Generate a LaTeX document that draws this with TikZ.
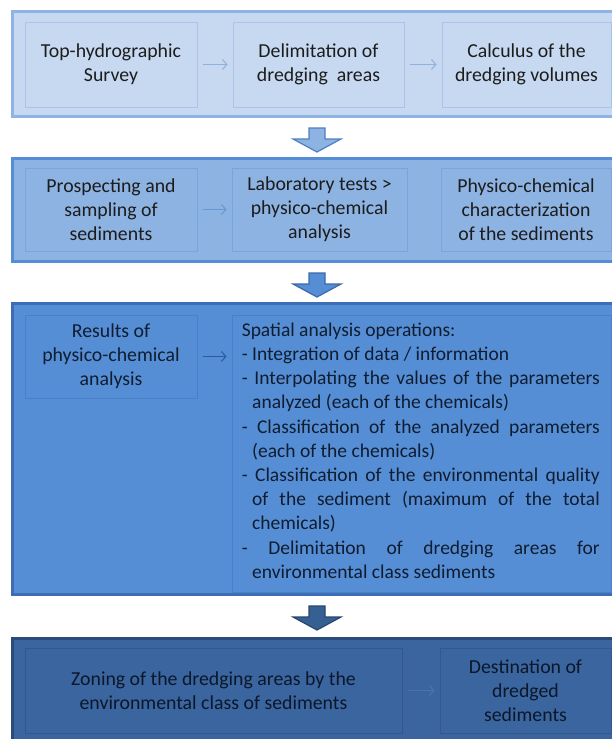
\documentclass[tikz,border=0pt]{standalone}
\usepackage{fontspec}
\setmainfont{Carlito}
\usetikzlibrary{arrows.meta}
\definecolor{fillA}{HTML}{C6D9F1}
\definecolor{edgeA}{HTML}{8EB4E3}
\definecolor{ibA}{HTML}{A9C4EA}
\definecolor{arA}{HTML}{8FB1DF}
\definecolor{fillB}{HTML}{8DB3E2}
\definecolor{edgeB}{HTML}{558ED5}
\definecolor{ibB}{HTML}{7CA4DA}
\definecolor{arB}{HTML}{6896D6}
\definecolor{fillC}{HTML}{558ED5}
\definecolor{edgeC}{HTML}{3D6DB3}
\definecolor{ibC}{HTML}{4A80CB}
\definecolor{arC}{HTML}{2D5A98}
\definecolor{fillD}{HTML}{3A659E}
\definecolor{edgeD}{HTML}{2B4C7A}
\definecolor{ibD}{HTML}{33598C}
\definecolor{arD}{HTML}{4D74A8}
\definecolor{txtA}{HTML}{1C1C1C}
\definecolor{txtC}{HTML}{101D30}
\definecolor{txtD}{HTML}{0B172A}
\definecolor{bigA}{HTML}{8DB3E2}
\definecolor{bigAe}{HTML}{4F7FC2}
\definecolor{bigB}{HTML}{558ED5}
\definecolor{bigBe}{HTML}{3A69AE}
\definecolor{bigC}{HTML}{376092}
\definecolor{bigCe}{HTML}{284670}
\newlength\hw
\tikzset{
  band/.style={draw, line width=3pt, rectangle, inner sep=0pt},
  ibox/.style={draw, line width=0.8pt, rectangle, inner sep=0pt, align=center,
    font=\fontsize{19.8}{24.2}\selectfont},
  thinarrow/.style={-{Straight Barb[length=4.5pt,width=10pt]}, line width=1pt,
    shorten <=5.5pt, shorten >=5pt},
  blockarrow/.style={line width=1.2pt, line join=miter},
}
\begin{document}
\begin{tikzpicture}[x=1pt,y=-1pt]
\useasboundingbox (0,0) rectangle (612,739);
\clip (0,0) rectangle (612,739);
\fill[white] (0,0) rectangle (612,739);

% ---------- band 1
\draw[band, draw=edgeA, fill=fillA] (12,11.5) rectangle (640,116);
\node[ibox, draw=ibA, fill=fillA, text=txtA, minimum width=172pt, minimum height=85pt] (a1) at (111,64.5) {Top-hydrographic\\Survey};
\node[ibox, draw=ibA, fill=fillA, text=txtA, minimum width=171pt, minimum height=85pt] (a2) at (318.5,64.5) {Delimitation of\\dredging\ \ areas};
\node[ibox, draw=ibA, fill=fillA, text=txtA, minimum width=169pt, minimum height=85pt] (a3) at (526.5,64.5) {Calculus of the\\dredging volumes};
\draw[thinarrow, draw=arA] (a1.east) -- (a2.west);
\draw[thinarrow, draw=arA] (a2.east) -- (a3.west);

% block arrow 1
\draw[blockarrow, draw=bigAe, fill=bigA] (309,128) -- (325,128) -- (325,139) -- (341,139) -- (317,152) -- (293,139) -- (309,139) -- cycle;

% ---------- band 2
\draw[band, draw=edgeB, fill=fillB] (12,158.5) rectangle (640,261);
\node[ibox, draw=ibB, fill=fillB, text=txtA, minimum width=172pt, minimum height=83pt] (b1) at (111,209.5) {Prospecting and\\sampling of\\sediments};
\node[ibox, draw=ibB, fill=fillB, text=txtA, minimum width=175pt, minimum height=83pt] (b2) at (319.5,209.5) {Laboratory tests >\\physico-chemical\\analysis};
\node[ibox, draw=ibB, fill=fillB, text=txtA, minimum width=170pt, minimum height=83pt] (b3) at (526,209.5) {Physico-chemical\\characterization\\of the sediments};
\draw[thinarrow, draw=arB] (b1.east) -- (b2.west);

% block arrow 2
\draw[blockarrow, draw=bigBe, fill=bigB] (309,273) -- (325,273) -- (325,284) -- (341,284) -- (317,297) -- (293,284) -- (309,284) -- cycle;

% ---------- band 3
\draw[band, draw=edgeC, fill=fillC] (12,303.5) rectangle (640,594);
\node[ibox, draw=ibC, fill=fillC, text=txtC, minimum width=172pt, minimum height=83pt] (c1) at (111,356.5) {Results of\\physico-chemical\\analysis};
\node[ibox, draw=ibC, fill=fillC, minimum width=379pt, minimum height=277pt] (c2) at (421.5,453.5) {};
\node[anchor=north west, inner sep=0pt, text width=358pt, align=justify, text=txtC,
  font=\fontsize{19.5}{24.2}\selectfont] (c2t) at ([xshift=10pt,yshift=-8pt]c2.north west) {%
\parindent=0pt\settowidth{\hw}{-\ }%
Spatial analysis operations:\par
\hangindent=\hw\hangafter=1 -\ Integration of data / information\par
\hangindent=\hw\hangafter=1 -\ Interpolating the values of the parameters\linebreak analyzed (each of the chemicals)\par
\hangindent=\hw\hangafter=1 -\ Classification of the analyzed parameters\linebreak (each of the chemicals)\par
\hangindent=\hw\hangafter=1 -\ Classification of the environmental quality\linebreak of the sediment (maximum of the total\linebreak chemicals)\par
\hangindent=\hw\hangafter=1 -\ Delimitation of dredging areas for\linebreak environmental class sediments\par};
\draw[thinarrow, draw=arC] (c1.east) -- (c2.west |- c1.east);

% block arrow 3
\draw[blockarrow, draw=bigCe, fill=bigC] (309,606) -- (325,606) -- (325,617) -- (341,617) -- (317,630) -- (293,617) -- (309,617) -- cycle;

% ---------- band 4
\draw[band, draw=edgeD, fill=fillD] (12,638.5) rectangle (640,760);
\node[ibox, draw=ibD, fill=fillD, text=txtD, minimum width=377pt, minimum height=85pt] (d1) at (213.5,690.5) {Zoning of the dredging areas by the\\environmental class of sediments};
\node[ibox, draw=ibD, fill=fillD, text=txtD, minimum width=171pt, minimum height=85pt] (d2) at (525.5,690.5) {Destination of\\dredged\\sediments};
\draw[thinarrow, draw=arD] (d1.east) -- (d2.west);
\end{tikzpicture}
\end{document}
